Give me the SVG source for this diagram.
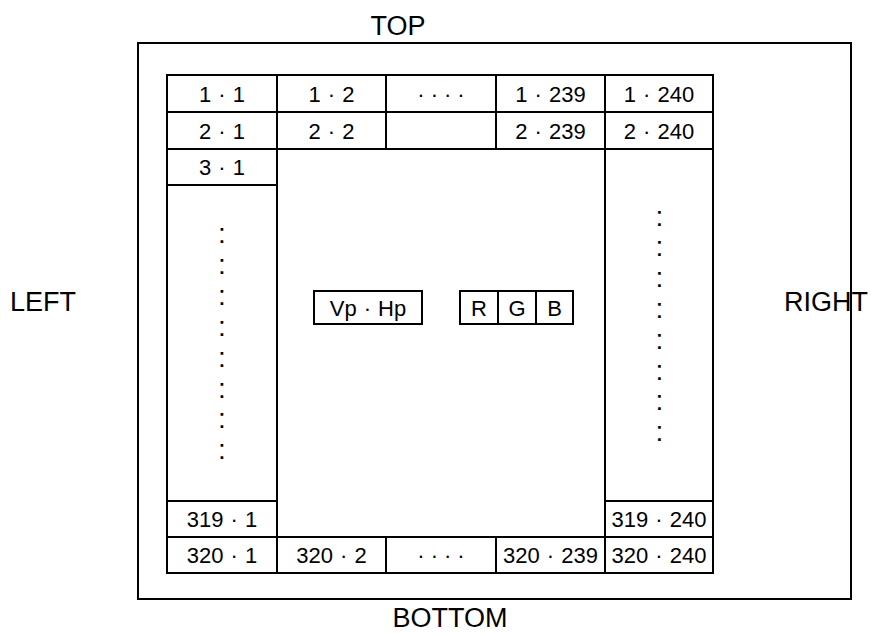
<svg xmlns="http://www.w3.org/2000/svg" width="871" height="634" viewBox="0 0 871 634">
<style>
  .ln{fill:none;stroke:#000;stroke-width:2}
  .t{font-family:"Liberation Sans",Arial,sans-serif;font-size:22px;fill:#000;text-anchor:middle}
  .lbl{font-family:"Liberation Sans",Arial,sans-serif;font-size:27px;fill:#000}
  .dots{font-family:"Liberation Sans",Arial,sans-serif;font-size:28px;fill:#000;text-anchor:middle}
</style>
<rect width="871" height="634" fill="#fff"/>
<g id="labels">
  <text class="lbl" x="398" y="35" text-anchor="middle">TOP</text>
  <text class="lbl" x="10" y="311">LEFT</text>
  <text class="lbl" x="784" y="311">RIGHT</text>
  <text class="lbl" x="450" y="627" text-anchor="middle">BOTTOM</text>
</g>
<g id="frame"><rect class="ln" x="138" y="43" width="713" height="556"/></g>
<g id="grid">
  <g id="c1-1"><rect class="ln" x="167" y="75" width="110" height="37"/><text class="t" x="222" y="102">1<tspan dx="7">·</tspan><tspan dx="7">1</tspan></text></g>
  <g id="c1-2"><rect class="ln" x="277" y="75" width="109" height="37"/><text class="t" x="331.5" y="102">1<tspan dx="7">·</tspan><tspan dx="7">2</tspan></text></g>
  <g id="c1-d"><rect class="ln" x="386" y="75" width="110" height="37"/><text class="t" x="421 434.3 447.7 461" y="102">····</text></g>
  <g id="c1-239"><rect class="ln" x="496" y="75" width="109" height="37"/><text class="t" x="550.5" y="102">1<tspan dx="7">·</tspan><tspan dx="7">239</tspan></text></g>
  <g id="c1-240"><rect class="ln" x="605" y="75" width="108" height="37"/><text class="t" x="659" y="102">1<tspan dx="7">·</tspan><tspan dx="7">240</tspan></text></g>
  <g id="c2-1"><rect class="ln" x="167" y="112" width="110" height="37"/><text class="t" x="222" y="139">2<tspan dx="7">·</tspan><tspan dx="7">1</tspan></text></g>
  <g id="c2-2"><rect class="ln" x="277" y="112" width="109" height="37"/><text class="t" x="331.5" y="139">2<tspan dx="7">·</tspan><tspan dx="7">2</tspan></text></g>
  <g id="c2-e"><rect class="ln" x="386" y="112" width="110" height="37"/></g>
  <g id="c2-239"><rect class="ln" x="496" y="112" width="109" height="37"/><text class="t" x="550.5" y="139">2<tspan dx="7">·</tspan><tspan dx="7">239</tspan></text></g>
  <g id="c2-240"><rect class="ln" x="605" y="112" width="108" height="37"/><text class="t" x="659" y="139">2<tspan dx="7">·</tspan><tspan dx="7">240</tspan></text></g>
  <g id="c3-1"><rect class="ln" x="167" y="149" width="110" height="36"/><text class="t" x="222" y="175">3<tspan dx="7">·</tspan><tspan dx="7">1</tspan></text></g>
  <g id="left-col"><rect class="ln" x="167" y="185" width="110" height="316"/>
    <text class="dots" x="222" y="243"><tspan x="222">:</tspan><tspan x="222" dy="30.9">:</tspan><tspan x="222" dy="30.9">:</tspan><tspan x="222" dy="30.9">:</tspan><tspan x="222" dy="30.9">:</tspan><tspan x="222" dy="30.9">:</tspan><tspan x="222" dy="30.9">:</tspan><tspan x="222" dy="30.9">:</tspan></text>
  </g>
  <g id="right-col"><rect class="ln" x="605" y="149" width="108" height="352"/>
    <text class="dots" x="659.5" y="225.5"><tspan x="659.5">:</tspan><tspan x="659.5" dy="30.8">:</tspan><tspan x="659.5" dy="30.8">:</tspan><tspan x="659.5" dy="30.8">:</tspan><tspan x="659.5" dy="30.8">:</tspan><tspan x="659.5" dy="30.8">:</tspan><tspan x="659.5" dy="30.8">:</tspan><tspan x="659.5" dy="30.8">:</tspan></text>
  </g>
  <g id="c319-1"><rect class="ln" x="167" y="501" width="110" height="36"/><text class="t" x="222" y="527">319<tspan dx="7">·</tspan><tspan dx="7">1</tspan></text></g>
  <g id="c319-240"><rect class="ln" x="605" y="501" width="108" height="36"/><text class="t" x="659" y="527">319<tspan dx="7">·</tspan><tspan dx="7">240</tspan></text></g>
  <g id="c320-1"><rect class="ln" x="167" y="537" width="110" height="36"/><text class="t" x="222" y="563">320<tspan dx="7">·</tspan><tspan dx="7">1</tspan></text></g>
  <g id="c320-2"><rect class="ln" x="277" y="537" width="109" height="36"/><text class="t" x="331.5" y="563">320<tspan dx="7">·</tspan><tspan dx="7">2</tspan></text></g>
  <g id="c320-d"><rect class="ln" x="386" y="537" width="110" height="36"/><text class="t" x="421 434.3 447.7 461" y="563">····</text></g>
  <g id="c320-239"><rect class="ln" x="496" y="537" width="109" height="36"/><text class="t" x="550.5" y="563">320<tspan dx="7">·</tspan><tspan dx="7">239</tspan></text></g>
  <g id="c320-240"><rect class="ln" x="605" y="537" width="108" height="36"/><text class="t" x="659" y="563">320<tspan dx="7">·</tspan><tspan dx="7">240</tspan></text></g>
</g>
<g id="vphp"><rect class="ln" x="314" y="291" width="108" height="33"/><text class="t" x="368" y="316">Vp<tspan dx="7">·</tspan><tspan dx="7">Hp</tspan></text></g>
<g id="rgb">
  <rect class="ln" x="460" y="291" width="113" height="33"/>
  <line class="ln" x1="498" y1="291" x2="498" y2="324"/>
  <line class="ln" x1="536" y1="291" x2="536" y2="324"/>
  <text class="t" x="479" y="316">R</text>
  <text class="t" x="517" y="316">G</text>
  <text class="t" x="554.5" y="316">B</text>
</g>
<g id="connectors"/>
</svg>
